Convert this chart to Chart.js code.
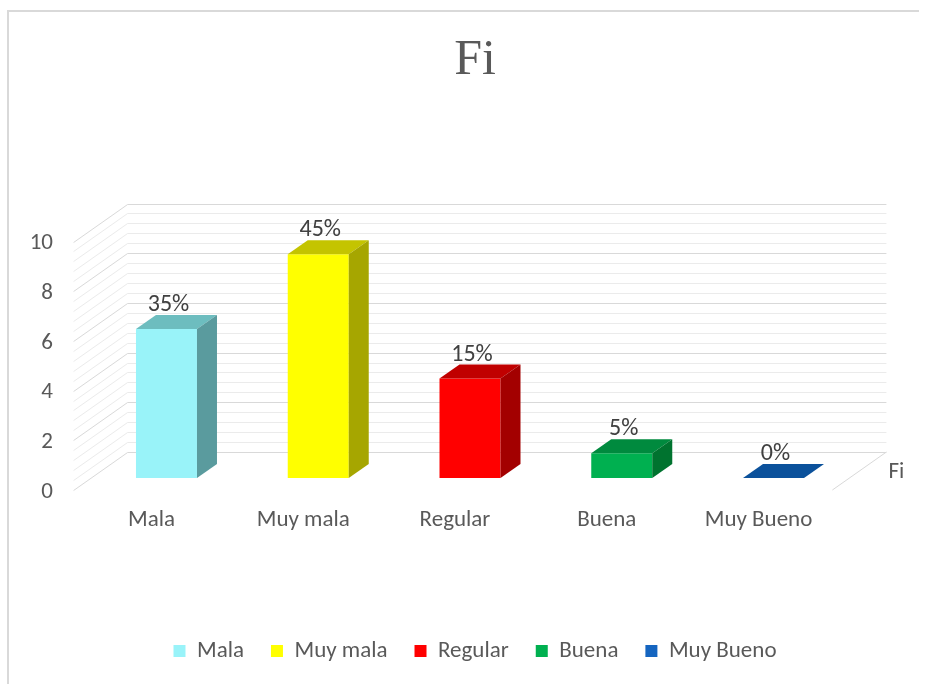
<!DOCTYPE html>
<html><head><meta charset="utf-8">
<script src="https://cdn.jsdelivr.net/npm/chart.js@4.4.1/dist/chart.umd.min.js"></script>
<style>html,body{margin:0;padding:0;background:#fff;} canvas{display:block;}</style>
</head><body>
<canvas id="c" width="930" height="684"></canvas>
<script>
// ---- data ----
const categories = ['Mala', 'Muy mala', 'Regular', 'Buena', 'Muy Bueno'];
const fiValues = [6, 9, 4, 1, 0];
const pctLabels = ['35%', '45%', '15%', '5%', '0%'];
const seriesName = 'Fi';
const yMin = 0, yMax = 10, yStep = 2, yMinorStep = 0.4;

// ---- styles ----
const frontColors = ['#99F3F9', '#FFFF00', '#FF0000', '#00B050', '#0F5CA8'];
const topColors   = ['#6DBDBF', '#C4C400', '#C00000', '#008A3E', '#0B519B'];
const sideColors  = ['#5A9B9E', '#A6A600', '#A30000', '#00732F', '#083F7A'];
const legendColors = ['#99F3F9', '#FFFF00', '#FF0000', '#00B050', '#1565C0'];
const FONT = 'Carlito, Lato, "Open Sans", sans-serif';
const TXT = '#595959';
const FS = 23;
// oblique offsets (px): bar depth, back wall, front plane
const D = {bx: 20, by: -14, wx: 37, wy: -26, fx: -17, fy: 12};

const threeD = {
  id: 'threeD',
  beforeDraw(chart) {
    const ctx = chart.ctx;
    ctx.save();
    ctx.fillStyle = '#ffffff';
    ctx.fillRect(0, 0, chart.width, chart.height);
    ctx.fillStyle = '#D9D9D9';
    ctx.fillRect(7, 10, 2, chart.height - 10);
    ctx.fillRect(7, 10, 912, 2);
    ctx.restore();
  },
  beforeDatasetsDraw(chart) {
    const {ctx, chartArea: {left, right}, scales: {y}} = chart;
    ctx.save();
    ctx.lineWidth = 1;
    const n = Math.round((yMax - yMin) / yMinorStep);
    const per = Math.round(yStep / yMinorStep);
    for (let k = 0; k <= n; k++) {
      const v = yMin + k * yMinorStep;
      const py = Math.round(y.getPixelForValue(v)) + 0.5;
      ctx.strokeStyle = (k % per === 0) ? '#D9D9D9' : '#EBEBEB';
      ctx.beginPath();
      ctx.moveTo(left + D.fx, py + D.fy);
      ctx.lineTo(left + D.wx, py + D.wy);
      ctx.lineTo(right + D.wx, py + D.wy);
      ctx.stroke();
    }
    const p0 = y.getPixelForValue(yMin);
    ctx.strokeStyle = '#D9D9D9';
    ctx.beginPath();
    ctx.moveTo(right + D.wx, p0 + D.wy);
    ctx.lineTo(right + D.fx, p0 + D.fy);
    ctx.stroke();
    ctx.restore();
  },
  afterDatasetsDraw(chart) {
    const {ctx, chartArea: {right}, scales: {y}} = chart;
    const meta = chart.getDatasetMeta(0);
    ctx.save();
    meta.data.forEach((bar, i) => {
      const {x, y: top, base, width} = bar.getProps(['x', 'y', 'base', 'width'], true);
      const l = x - width / 2, r = x + width / 2;
      ctx.fillStyle = topColors[i];
      ctx.beginPath();
      ctx.moveTo(l, top); ctx.lineTo(r, top);
      ctx.lineTo(r + D.bx, top + D.by); ctx.lineTo(l + D.bx, top + D.by);
      ctx.closePath(); ctx.fill();
      if (base - top > 0.5) {
        ctx.fillStyle = sideColors[i];
        ctx.beginPath();
        ctx.moveTo(r, top); ctx.lineTo(r + D.bx, top + D.by);
        ctx.lineTo(r + D.bx, base + D.by); ctx.lineTo(r, base);
        ctx.closePath(); ctx.fill();
      }
      ctx.fillStyle = '#404040';
      ctx.font = '24px ' + FONT;
      ctx.textAlign = 'center';
      ctx.textBaseline = 'alphabetic';
      ctx.fillText(pctLabels[i], x + 2, top + D.by - 4);
    });
    const p0 = y.getPixelForValue(yMin);
    ctx.fillStyle = TXT;
    ctx.font = FS + 'px ' + FONT;
    ctx.textAlign = 'left';
    ctx.textBaseline = 'middle';
    ctx.fillText(seriesName, right + D.wx + 2, p0 - 6);
    ctx.restore();
  }
};

new Chart(document.getElementById('c'), {
  type: 'bar',
  data: {
    labels: categories,
    datasets: [{
      label: seriesName,
      data: fiValues,
      backgroundColor: frontColors,
      borderWidth: 0,
      barPercentage: 0.402,
      categoryPercentage: 1
    }]
  },
  options: {
    responsive: false,
    animation: false,
    devicePixelRatio: 1,
    layout: {padding: {left: 20, right: 0, top: 0, bottom: 11.5}},
    plugins: {
      title: {
        display: true, text: seriesName, color: TXT,
        font: {family: '"Liberation Serif", "DejaVu Serif", serif', size: 50, weight: 'normal'},
        padding: {top: 31, bottom: 138.5}
      },
      legend: {
        position: 'bottom',
        onClick: () => {},
        labels: {
          boxWidth: 12, boxHeight: 12, padding: 27, color: TXT,
          font: {family: FONT, size: FS},
          generateLabels: () => categories.map((c, i) => ({
            text: c, fillStyle: legendColors[i], strokeStyle: legendColors[i],
            lineWidth: 0, hidden: false, index: i, fontColor: TXT
          }))
        }
      },
      tooltip: {enabled: false}
    },
    scales: {
      x: {
        grid: {display: false}, border: {display: false},
        ticks: {color: TXT, font: {family: FONT, size: FS}, padding: 20, labelOffset: -15, maxRotation: 0, autoSkip: false},
        afterFit(s) { s.height = 134.5; }
      },
      y: {
        min: yMin, max: yMax,
        grid: {display: false}, border: {display: false},
        ticks: {stepSize: yStep, color: TXT, font: {family: FONT, size: FS}, padding: 29.6, labelOffset: 14},
        afterFit(s) { s.width = 70.6; }
      },
      yR: {
        type: 'linear', position: 'right', min: yMin, max: yMax,
        grid: {display: false}, border: {display: false},
        ticks: {display: false},
        afterFit(s) { s.width = 80.6; }
      }
    }
  },
  plugins: [threeD]
});
</script>
</body></html>
